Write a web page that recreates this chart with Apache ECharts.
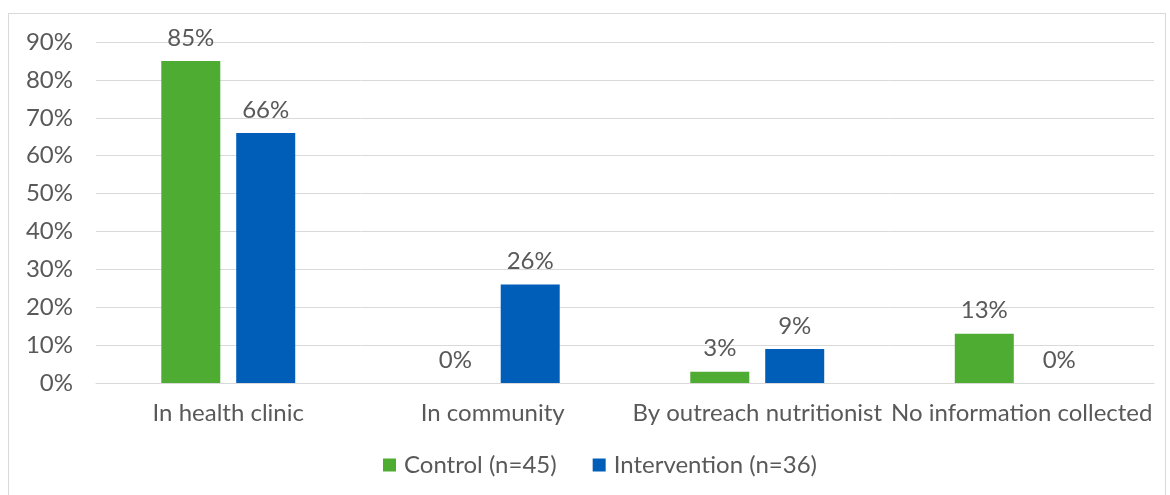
<!DOCTYPE html>
<html>
<head>
<meta charset="utf-8">
<script src="https://cdn.jsdelivr.net/npm/echarts@6/dist/echarts.min.js"></script>
<style>
  html, body { margin: 0; padding: 0; background: #fff; }
  #frame {
    position: absolute; left: 8px; top: 13px; width: 1158px; height: 500px;
    border: 1px solid #d9d9d9; box-sizing: border-box;
  }
  #main { position: absolute; left: 0; top: 0; width: 1170px; height: 495px; }
</style>
</head>
<body>
<div id="frame"></div>
<div id="main"></div>
<script>
// data
const categories = ['In health clinic', 'In community', 'By outreach nutritionist', 'No information collected'];
const controlVals = [85, 0, 3, 13];
const interventionVals = [66, 26, 9, 0];
const seriesNames = ['Control (n=45)', 'Intervention (n=36)'];

const txt = '#595959';
const font = 'Lato';
const fs = 24;

const chart = echarts.init(document.getElementById('main'));

function barSeries(name, data, color) {
  return {
    name: name,
    type: 'bar',
    data: data,
    barWidth: 59,
    barGap: '27%',
    itemStyle: { color: color },
    label: {
      show: true,
      position: 'top',
      distance: 11,
      formatter: '{c}%',
      color: txt,
      fontFamily: font,
      fontSize: fs
    }
  };
}

chart.setOption({
  animation: false,
  textStyle: { fontFamily: font },
  grid: { left: 96, right: 16, top: 42, bottom: 112, containLabel: false },
  legend: {
    bottom: 13,
    left: 378,
    itemWidth: 13,
    itemHeight: 13,
    itemGap: 36,
    icon: 'rect',
    textStyle: { color: txt, fontSize: fs, fontFamily: font, padding: [0, 0, 0, 3] },
    data: seriesNames
  },
  xAxis: {
    type: 'category',
    data: categories,
    axisLine: { lineStyle: { color: '#d9d9d9', width: 1 } },
    axisTick: { show: false },
    axisLabel: { color: txt, fontSize: fs, fontFamily: font, margin: 18, interval: 0 }
  },
  yAxis: {
    type: 'value',
    min: 0,
    max: 90,
    interval: 10,
    axisLine: { show: false },
    axisTick: { show: false },
    axisLabel: { color: txt, fontSize: fs, fontFamily: font, formatter: '{value}%', margin: 23 },
    splitLine: { lineStyle: { color: '#d9d9d9', width: 1 } }
  },
  series: [
    barSeries(seriesNames[0], controlVals, '#4eac33'),
    barSeries(seriesNames[1], interventionVals, '#005eb8')
  ]
});
</script>
</body>
</html>
